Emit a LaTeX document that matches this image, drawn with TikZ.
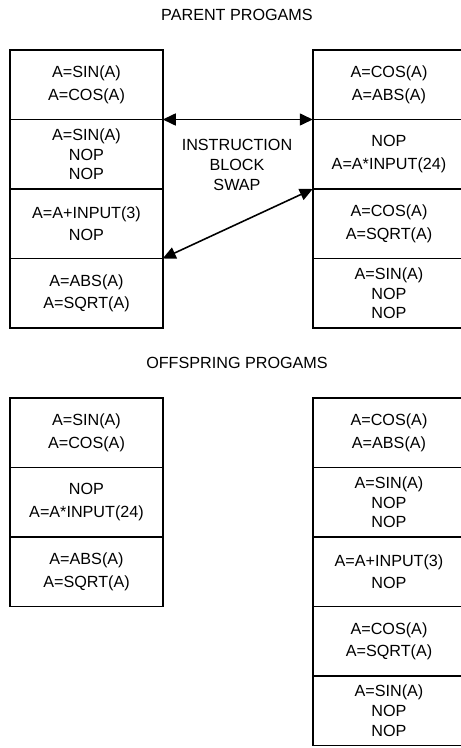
\documentclass[tikz,border=0pt]{standalone}
\usepackage{fontspec}
\setmainfont{Liberation Sans}
\usetikzlibrary{positioning, arrows.meta}

\begin{document}
\begin{tikzpicture}[
        font=\fontsize{9.2}{13}\selectfont,
        >={Triangle[length=2.6mm, width=2.4mm]},
        cell/.style={draw, line width=1pt, minimum width=3.05cm, minimum height=1.39cm, inner sep=0pt, outer sep=0pt, anchor=north, align=center},
        tightcell/.style={cell, font=\fontsize{9.2}{11.3}\selectfont},
        opencell/.style={draw=none},
        cellline/.style={line width=1pt},
        titletext/.style={anchor=center},
        swaparrow/.style={<->, line width=0.9pt}
    ]
    \useasboundingbox (0,0) rectangle (9.22,-14.96);

    % --- Parent programs ---
    \node[titletext] (ptitle) at (4.74, -0.3) {PARENT PROGAMS};

    % Left parent
    \node[cell] (pa1) at (1.73, -1.0) {A=SIN(A)\\A=COS(A)};
    \node[tightcell] (pa2) at (1.73, -2.39) {A=SIN(A)\\NOP\\NOP};
    \node[cell] (pa3) at (1.73, -3.78) {A=A+INPUT(3)\\NOP};
    \node[cell] (pa4) at (1.73, -5.17) {A=ABS(A)\\A=SQRT(A)};

    % Right parent (runs off the right edge)
    \node[cell, opencell] (pb1) at (7.78, -1.0) {A=COS(A)\\A=ABS(A)};
    \node[cell, opencell] (pb2) at (7.78, -2.39) {NOP\\A=A*INPUT(24)};
    \node[cell, opencell] (pb3) at (7.78, -3.78) {A=COS(A)\\A=SQRT(A)};
    \node[tightcell, opencell] (pb4) at (7.78, -5.17) {A=SIN(A)\\NOP\\NOP};

    % Swap arrows
    \node[align=center, font=\fontsize{9.2}{11.3}\selectfont] (swap) at (4.74, -3.3) {INSTRUCTION\\BLOCK\\SWAP};
    \draw[swaparrow] (pa1.south east) -- (pb1.south west);
    \draw[swaparrow] (pa3.south east) -- (pb2.south west);

    % --- Offspring programs ---
    \node[titletext] (otitle) at (4.74, -7.26) {OFFSPRING PROGAMS};

    % Left offspring
    \node[cell] (oa1) at (1.73, -7.96) {A=SIN(A)\\A=COS(A)};
    \node[cell] (oa2) at (1.73, -9.35) {NOP\\A=A*INPUT(24)};
    \node[cell] (oa3) at (1.73, -10.74) {A=ABS(A)\\A=SQRT(A)};

    % Right offspring
    \node[cell, opencell] (ob1) at (7.78, -7.96) {A=COS(A)\\A=ABS(A)};
    \node[tightcell, opencell] (ob2) at (7.78, -9.35) {A=SIN(A)\\NOP\\NOP};
    \node[cell, opencell] (ob3) at (7.78, -10.74) {A=A+INPUT(3)\\NOP};
    \node[cell, opencell] (ob4) at (7.78, -12.13) {A=COS(A)\\A=SQRT(A)};
    \node[tightcell, opencell] (ob5) at (7.78, -13.52) {A=SIN(A)\\NOP\\NOP};

    % Open-sided borders of the right columns
    \foreach \c in {pb1, pb2, pb3, pb4, ob1, ob2, ob3, ob4, ob5}
        \draw[cellline] ([xshift=5mm]\c.north east) -- (\c.north west) -- (\c.south west) -- ([xshift=5mm]\c.south east);

\end{tikzpicture}
\end{document}
